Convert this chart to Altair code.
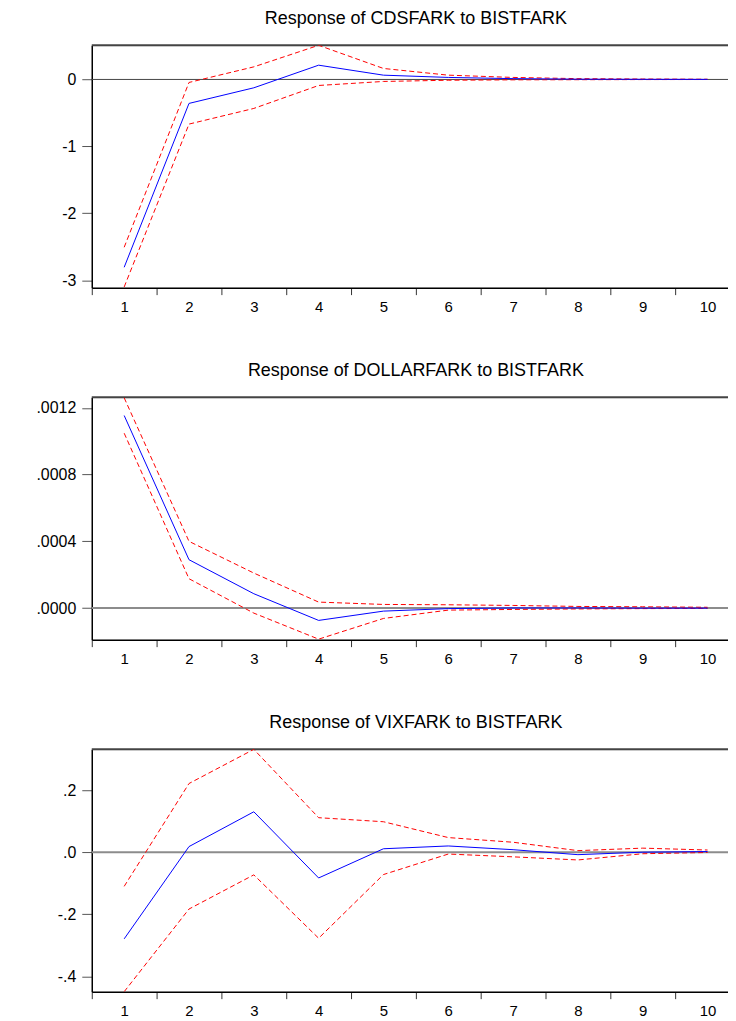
import altair as alt
import pandas as pd

periods = list(range(1, 11))

cds_resp = [-2.806, -0.358, -0.125, 0.213, 0.064, 0.030, 0.012, 0.004, 0.002, 0.001]
cds_upper = [-2.507, -0.045, 0.188, 0.510, 0.164, 0.064, 0.030, 0.012, 0.006, 0.003]
cds_lower = [-3.100, -0.667, -0.433, -0.090, -0.030, -0.012, -0.006, -0.004, -0.002, -0.001]

usd_resp = [0.001154, 0.000290, 0.0000862, -0.0000737, -0.000018, -0.000003, 0.000001, 0.000001, 0.0, 0.0]
usd_upper = [0.001260, 0.000400, 0.000210, 0.000036, 0.000022, 0.000020, 0.000016, 0.000010, 0.000008, 0.000005]
usd_lower = [0.001048, 0.000176, -0.000030, -0.000186, -0.000062, -0.000012, -0.000008, -0.000005, -0.000003, -0.000002]

vix_resp = [-0.279, 0.018, 0.130, -0.083, 0.011, 0.020, 0.008, -0.008, 0.000, 0.002]
vix_upper = [-0.110, 0.221, 0.331, 0.111, 0.098, 0.047, 0.032, 0.005, 0.013, 0.007]
vix_lower = [-0.449, -0.183, -0.073, -0.277, -0.072, -0.006, -0.015, -0.025, -0.005, -0.001]

titles = [
    "Response of CDSFARK to BISTFARK",
    "Response of DOLLARFARK to BISTFARK",
    "Response of VIXFARK to BISTFARK",
]
y_domains = [[-3.11, 0.51], [-0.000189, 0.001263], [-0.449, 0.331]]
y_ticks = [[0, -1, -2, -3], [0, 0.0004, 0.0008, 0.0012], [0.2, 0.0, -0.2, -0.4]]
label_exprs = [
    "replace(format(datum.value, 'd'), '\u2212', '-')",
    "replace(replace(format(datum.value, '.4f'), '0.', '.'), '\u2212', '-')",
    "replace(replace(format(datum.value, '.1f'), '0.', '.'), '\u2212', '-')",
]
zero_styles = [("#444444", 1), ("#8c8c8c", 2), ("#8c8c8c", 2)]

FONT = "Liberation Sans"


def panel(i, resp, upper, lower):
    df = pd.DataFrame({"t": periods, "resp": resp, "upper": upper, "lower": lower})
    x = alt.X(
        "t:O",
        scale=alt.Scale(type="band", paddingInner=0, paddingOuter=0),
        axis=alt.Axis(
            title=None, labelAngle=0, tickBand="extent", tickSize=7,
            labelPadding=5, domainColor="black", domainWidth=1.5,
            tickColor="#333333", labelFontSize=15, labelFont=FONT,
            labelColor="black",
        ),
    )
    yscale = alt.Scale(domain=y_domains[i], nice=False, zero=False)
    yaxis = alt.Axis(
        title=None, values=y_ticks[i], labelExpr=label_exprs[i],
        tickSize=10, labelPadding=6, minExtent=83, maxExtent=83,
        domainColor="black", domainWidth=1.5, tickColor="#555555",
        labelFontSize=16, labelFont=FONT, labelColor="black", grid=False,
    )
    base = alt.Chart(df)
    zc, zw = zero_styles[i]
    frame_top = alt.Chart(pd.DataFrame({"top": [y_domains[i][1]]})).mark_rule(
        color="#444444", strokeWidth=2
    ).encode(y=alt.Y("top:Q", scale=yscale, axis=yaxis))
    zero = alt.Chart(pd.DataFrame({"z": [0]})).mark_rule(
        color=zc, strokeWidth=zw
    ).encode(y=alt.Y("z:Q", scale=yscale, axis=yaxis))
    up = base.mark_line(color="#ff0000", strokeWidth=1, strokeDash=[5, 3], clip=True).encode(
        x=x, y=alt.Y("upper:Q", scale=yscale, axis=yaxis))
    lo = base.mark_line(color="#ff0000", strokeWidth=1, strokeDash=[5, 3], clip=True).encode(
        x=x, y=alt.Y("lower:Q", scale=yscale, axis=yaxis))
    rs = base.mark_line(color="#0000ff", strokeWidth=1, clip=True).encode(
        x=x, y=alt.Y("resp:Q", scale=yscale, axis=yaxis))
    return alt.layer(frame_top, zero, up, lo, rs).properties(
        width=650, height=243,
        title=alt.TitleParams(
            titles[i], fontSize=18, font=FONT, fontWeight="normal",
            anchor="middle", offset=16, color="black",
        ),
    )


chart = alt.vconcat(
    panel(0, cds_resp, cds_upper, cds_lower),
    panel(1, usd_resp, usd_upper, usd_lower),
    panel(2, vix_resp, vix_upper, vix_lower),
    spacing=46,
).properties(
    padding={"left": 0, "top": 0, "right": -14, "bottom": 0},
).configure_view(
    stroke=None,
).configure(background="white")

chart.save("out.html", embed_options={"renderer": "svg", "actions": False})
